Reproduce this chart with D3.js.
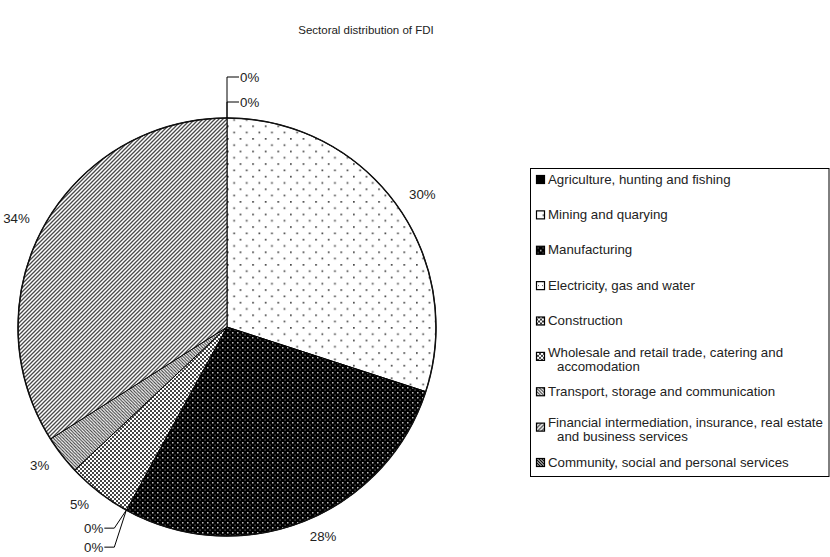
<!DOCTYPE html>
<html>
<head>
<meta charset="utf-8">
<script src="https://cdn.jsdelivr.net/npm/d3@7"></script>
<style>
  html, body { margin: 0; padding: 0; background: #fff; }
  svg { display: block; font-family: "Liberation Sans", Arial, sans-serif; }
</style>
</head>
<body>
<svg id="chart" width="830" height="557"></svg>
<script>
// Sectors in drawing order (clockwise from 12 o'clock)
const categories = [
  "Agriculture, hunting and fishing",
  "Mining and quarying",
  "Manufacturing",
  "Electricity, gas and water",
  "Construction",
  "Wholesale and retail trade, catering and accomodation",
  "Transport, storage and communication",
  "Financial intermediation, insurance, real estate and business services",
  "Community, social and personal services"
];
// Share of FDI, percent
const shares = [0, 30, 28, 0, 0, 5, 3, 34, 0];
// Legend text, wrapped as printed
const legendLines = [
  ["Agriculture, hunting and fishing"],
  ["Mining and quarying"],
  ["Manufacturing"],
  ["Electricity, gas and water"],
  ["Construction"],
  ["Wholesale and retail trade, catering and", "accomodation"],
  ["Transport, storage and communication"],
  ["Financial intermediation, insurance, real estate", "and business services"],
  ["Community, social and personal services"]
];
const title = "Sectoral distribution of FDI";

const svg = d3.select("#chart");
const defs = svg.append("defs");
const FONT = 13.3;

// ---- fill patterns, one per sector ----
function pattern(id, w, h, bg, draw) {
  const p = defs.append("pattern").attr("id", id)
    .attr("patternUnits", "userSpaceOnUse").attr("width", w).attr("height", h);
  p.append("rect").attr("width", w).attr("height", h).attr("fill", bg);
  draw(p);
  return `url(#${id})`;
}
const fills = [
  // Agriculture: solid black
  "#000",
  // Mining: sparse grey dots on white
  pattern("p-mining", 12.6, 12.6, "#fff", p => {
    p.append("rect").attr("x", 0).attr("y", 0).attr("width", 1.7).attr("height", 1.7).attr("fill", "#4a4a4a");
    p.append("rect").attr("x", 6.3).attr("y", 6.3).attr("width", 1.7).attr("height", 1.7).attr("fill", "#4a4a4a");
  }),
  // Manufacturing: light dots on black
  pattern("p-manuf", 5, 5, "#000", p => {
    p.append("rect").attr("x", 0).attr("y", 0).attr("width", 1.5).attr("height", 1.5).attr("fill", "#c0c0c0");
    p.append("rect").attr("x", 2.5).attr("y", 2.5).attr("width", 1.2).attr("height", 1.2).attr("fill", "#777");
  }),
  // Electricity: light dotted grid
  pattern("p-elec", 4, 4, "#fff", p => {
    p.append("rect").attr("width", 1).attr("height", 1).attr("fill", "#555");
  }),
  // Construction: dense checker
  pattern("p-constr", 4, 4, "#fff", p => {
    p.append("rect").attr("width", 2).attr("height", 2).attr("fill", "#333");
    p.append("rect").attr("x", 2).attr("y", 2).attr("width", 2).attr("height", 2).attr("fill", "#333");
  }),
  // Wholesale: diagonal cross-hatch
  pattern("p-whole", 4, 4, "#fff", p => {
    p.append("path").attr("d", "M0,0L4,4M4,0L0,4M-1,3L1,5M3,-1L5,1M-1,1L1,-1M3,5L5,3")
      .attr("stroke", "#444").attr("stroke-width", 1);
  }),
  // Transport: downward diagonal lines
  pattern("p-trans", 3.2, 3.2, "#fff", p => {
    p.append("path").attr("d", "M0,0L3.2,3.2M-1,2.2L1,4.2M2.2,-1L4.2,1")
      .attr("stroke", "#3a3a3a").attr("stroke-width", 1);
  }),
  // Financial: wide upward diagonal lines
  pattern("p-fin", 4, 4, "#fff", p => {
    p.append("path").attr("d", "M0,4L4,0M-1,1L1,-1M3,5L5,3")
      .attr("stroke", "#4a4a4a").attr("stroke-width", 1.3);
  }),
  // Community: dark downward diagonal lines
  pattern("p-comm", 3, 3, "#fff", p => {
    p.append("path").attr("d", "M0,0L3,3M-1,2L1,4M2,-1L4,1")
      .attr("stroke", "#111").attr("stroke-width", 1.4);
  })
];

// ---- title ----
svg.append("text")
  .attr("x", 366).attr("y", 34)
  .attr("text-anchor", "middle")
  .attr("font-size", 11.5).attr("fill", "#222")
  .text(title);

// ---- pie ----
const cx = 227, cy = 327, radius = 209;
const g = svg.append("g").attr("transform", `translate(${cx},${cy})`);

const pie = d3.pie().sort(null).value(d => d).startAngle(0).endAngle(2 * Math.PI);
const arcs = pie(shares);
const arc = d3.arc().innerRadius(0).outerRadius(radius);

g.selectAll("path.slice")
  .data(arcs)
  .join("path")
  .attr("class", "slice")
  .attr("d", arc)
  .attr("fill", (d, i) => fills[i])
  .attr("stroke", "#000")
  .attr("stroke-width", d => d.value > 0 ? 1 : 0);

// darker rim around the whole pie
g.append("circle").attr("r", radius)
  .attr("fill", "none").attr("stroke", "#111").attr("stroke-width", 1.5);

// point on a circle of radius r at pie angle a (0 = 12 o'clock, clockwise)
const polar = (a, r) => [r * Math.sin(a), -r * Math.cos(a)];

// labels for non-empty slices, just outside the rim at the mid angle
const labelR = radius + 16;
arcs.forEach((d, i) => {
  if (d.value === 0) return;
  const mid = (d.startAngle + d.endAngle) / 2;
  const [x, y] = polar(mid, labelR);
  const s = Math.sin(mid);
  g.append("text")
    .attr("x", x).attr("y", y)
    .attr("dy", "0.35em")
    .attr("text-anchor", Math.abs(s) < 0.3 ? "middle" : (s > 0 ? "start" : "end"))
    .attr("font-size", FONT).attr("fill", "#222")
    .text(d.value + "%");
});

// empty slices get leader lines, grouped by where they sit on the rim
const zeroGroups = d3.groups(
  arcs.map((d, i) => ({ d, i })).filter(o => o.d.value === 0),
  o => (o.d.startAngle % (2 * Math.PI)).toFixed(4)
);
zeroGroups.forEach(([key, items]) => {
  const a = +key;
  const [ax, ay] = polar(a, radius);
  const atTop = Math.abs(Math.sin(a)) < 0.01;
  items.forEach((o, k) => {
    if (atTop) {
      // vertical leader up from the rim, label to the right
      const ty = ay - 16 - k * 25;
      g.append("path")
        .attr("d", `M${ax},${ay}V${ty}H${ax + 12}`)
        .attr("fill", "none").attr("stroke", "#000").attr("stroke-width", 1);
      g.append("text")
        .attr("x", ax + 13).attr("y", ty).attr("dy", "0.35em")
        .attr("font-size", FONT).attr("fill", "#222")
        .text(o.d.value + "%");
    } else {
      // leader down-left from the rim, label to the left
      const ty = ay + 18 + k * 19;
      const ex = ax - 12;
      g.append("path")
        .attr("d", `M${ax},${ay}L${ex},${ty}H${ex - 10}`)
        .attr("fill", "none").attr("stroke", "#000").attr("stroke-width", 1);
      g.append("text")
        .attr("x", ex - 11).attr("y", ty).attr("dy", "0.35em")
        .attr("text-anchor", "end")
        .attr("font-size", FONT).attr("fill", "#222")
        .text(o.d.value + "%");
    }
  });
});

// ---- legend ----
const legend = svg.append("g").attr("transform", "translate(530,168)");
legend.append("rect")
  .attr("x", 0.5).attr("y", 0.5).attr("width", 298.5).attr("height", 308)
  .attr("fill", "#fff").attr("stroke", "#000").attr("stroke-width", 1);

const legendY = d3.scaleLinear().domain([0, categories.length - 1]).range([11, 294]);
const rows = legend.selectAll("g.item")
  .data(categories)
  .join("g")
  .attr("class", "item")
  .attr("transform", (d, i) => `translate(0,${legendY(i)})`);

rows.append("rect")
  .attr("x", 6.5).attr("y", -3.5).attr("width", 8).attr("height", 8)
  .attr("fill", (d, i) => fills[i])
  .attr("stroke", "#000").attr("stroke-width", 1.2);

rows.each(function (d, i) {
  const lines = legendLines[i];
  const t = d3.select(this).append("text")
    .attr("font-size", FONT).attr("fill", "#222");
  lines.forEach((ln, k) => {
    t.append("tspan")
      .attr("x", k === 0 ? 18 : 27)
      .attr("y", k * 14 + (lines.length > 1 ? -4 : 0))
      .attr("dy", "0.35em")
      .text(ln);
  });
});
</script>
</body>
</html>
